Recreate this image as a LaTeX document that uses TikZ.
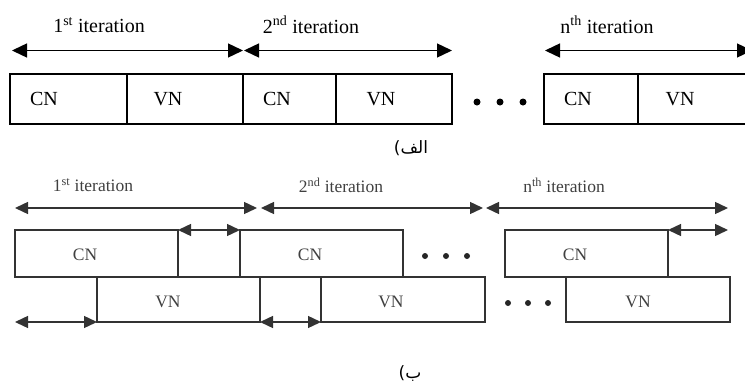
\documentclass[tikz,border=0pt]{standalone}
\usepackage{fontspec}
\setmainfont{Liberation Serif}
\newfontfamily\arabicfont[Script=Arabic]{DejaVu Sans}
\TeXXeTstate=1
\usetikzlibrary{arrows.meta}

\begin{document}
\begin{tikzpicture}[x=1pt,y=-1pt,
  cell/.style={draw, line width=1.8pt, inner sep=0pt, outer sep=0pt},
  cellb/.style={draw=black!80, line width=1.8pt, inner sep=0pt, outer sep=0pt},
  span/.style={{Triangle[length=15pt,width=14pt]}-{Triangle[length=15pt,width=14pt]}, line width=1.4pt},
  spanb/.style={{Triangle[length=13pt,width=12pt]}-{Triangle[length=13pt,width=12pt]}, line width=1.4pt, draw=black!80, fill=black!80},
  lbl/.style={inner sep=0pt, font=\fontsize{20}{24}\selectfont},
  lblb/.style={inner sep=0pt, text=black!75, font=\fontsize{17.5}{21}\selectfont},
  captxt/.style={inner sep=0pt, font=\arabicfont\fontsize{17}{20}\selectfont},
  dotA/.style={circle, fill, inner sep=0pt, minimum size=7pt},
  dotB/.style={circle, fill=black!85, inner sep=0pt, minimum size=6pt}]

\useasboundingbox (0,0) rectangle (745,383);
\clip (0,0) rectangle (745,383);

% ---------- (a) sequential schedule ----------
\node[lbl] (ta1) at (99,25)  {1\textsuperscript{st} iteration};
\node[lbl] (ta2) at (311,25) {2\textsuperscript{nd} iteration};
\node[lbl] (ta3) at (607,25) {n\textsuperscript{th} iteration};

\coordinate (pa0) at (12,50.5);
\coordinate (pa1) at (243,50.5);
\coordinate (pa2) at (244,50.5);
\coordinate (pa3) at (452,50.5);
\coordinate (pa4) at (545,50.5);
\coordinate (pa5) at (752,50.5);
\draw[span] (pa0) -- (pa1);
\draw[span] (pa2) -- (pa3);
\draw[span] (pa4) -- (pa5);

\node[cell, minimum width=117pt, minimum height=50pt] (a1c) at (68.5,99) {};
\node[cell, minimum width=116pt, minimum height=50pt] (a1v) at (185,99) {};
\node[cell, minimum width=93pt,  minimum height=50pt] (a2c) at (289.5,99) {};
\node[cell, minimum width=116pt, minimum height=50pt] (a2v) at (394,99) {};
\node[cell, minimum width=94pt,  minimum height=50pt] (a3c) at (591,99) {};
\node[cell, minimum width=132pt, minimum height=50pt] (a3v) at (704,99) {};

\node[lbl] (la1c) at (44,99)  {CN};
\node[lbl] (la1v) at (168,99) {VN};
\node[lbl] (la2c) at (277,99) {CN};
\node[lbl] (la2v) at (381,99) {VN};
\node[lbl] (la3c) at (578,99) {CN};
\node[lbl] (la3v) at (680,99) {VN};

\node[dotA] (da1) at (477,102) {};
\node[dotA] (da2) at (500,102) {};
\node[dotA] (da3) at (523,102) {};

\node[captxt] (capa) at (411,148) {\beginR الف)\endR};

% ---------- (b) overlapped schedule ----------
\node[lblb] (tb1) at (93,185)  {1\textsuperscript{st} iteration};
\node[lblb] (tb2) at (341,185) {2\textsuperscript{nd} iteration};
\node[lblb] (tb3) at (564,185) {n\textsuperscript{th} iteration};

\coordinate (pb0) at (15,208);
\coordinate (pb1) at (257,208);
\coordinate (pb2) at (261,208);
\coordinate (pb3) at (483,208);
\coordinate (pb4) at (486,208);
\coordinate (pb5) at (728,208);
\draw[spanb] (pb0) -- (pb1);
\draw[spanb] (pb2) -- (pb3);
\draw[spanb] (pb4) -- (pb5);

\node[cellb, minimum width=163pt, minimum height=47pt] (b1c) at (96.5,253.5) {};
\node[cellb, minimum width=163pt, minimum height=47pt] (b2c) at (321.5,253.5) {};
\node[cellb, minimum width=163pt, minimum height=47pt] (b3c) at (586.5,253.5) {};

\node[cellb, minimum width=163pt, minimum height=45pt] (b1v) at (178.5,299.5) {};
\node[cellb, minimum width=164pt, minimum height=45pt] (b2v) at (403,299.5) {};
\node[cellb, minimum width=164pt, minimum height=45pt] (b3v) at (648,299.5) {};

\node[lblb] (lb1c) at (85,255)  {CN};
\node[lblb] (lb2c) at (310,255) {CN};
\node[lblb] (lb3c) at (575,255) {CN};
\node[lblb] (lb1v) at (168,302) {VN};
\node[lblb] (lb2v) at (391,302) {VN};
\node[lblb] (lb3v) at (638,302) {VN};

% gaps between the node-update phases
\coordinate (qe) at (728,230);
\coordinate (qs) at (15,322);
\draw[spanb] (b1c.north east) -- (b2c.north west);
\draw[spanb] (b3c.north east) -- (qe);
\draw[spanb] (qs) -- (b1v.south west);
\draw[spanb] (b1v.south east) -- (b2v.south west);

\node[dotB] (db1) at (425,256) {};
\node[dotB] (db2) at (446,256) {};
\node[dotB] (db3) at (467,256) {};
\node[dotB] (db4) at (508,303) {};
\node[dotB] (db5) at (528,303) {};
\node[dotB] (db6) at (548,303) {};

\node[captxt] (capb) at (410,373) {\beginR ب)\endR};
\end{tikzpicture}
\end{document}
